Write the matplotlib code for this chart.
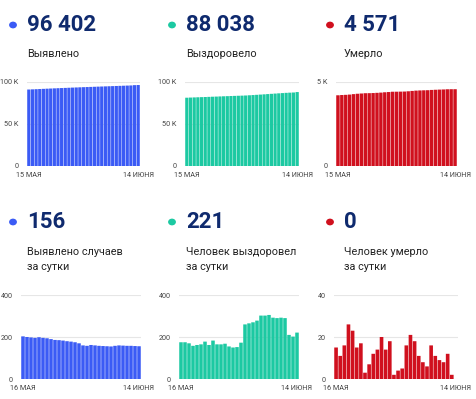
import matplotlib
matplotlib.use("Agg")
import matplotlib.pyplot as plt
from matplotlib.patches import Circle

plt.rcParams['font.family'] = ['Roboto', 'DejaVu Sans']

W, H = 477, 399

# ---- data ----
top_titles = ["96 402", "88 038", "4 571"]
top_labels = ["Выявлено", "Выздоровело", "Умерло"]
bottom_titles = ["156", "221", "0"]
bottom_labels = [["Выявлено случаев", "за сутки"],
                 ["Человек выздоровел", "за сутки"],
                 ["Человек умерло", "за сутки"]]

top_xlabels = ["15 МАЯ", "14 ИЮНЯ"]
bottom_xlabels = ["16 МАЯ", "14 ИЮНЯ"]

cases_total = [91050, 91250, 91450, 91650, 91850, 92050, 92240, 92430, 92620, 92800,
               92980, 93160, 93340, 93510, 93680, 93840, 94000, 94160, 94320, 94480,
               94640, 94790, 94950, 95100, 95260, 95420, 95580, 95740, 95900, 96250, 96402]
recovered_total = [81300, 81480, 81650, 81820, 81980, 82140, 82300, 82480, 82640, 82820,
                   82990, 83150, 83320, 83470, 83620, 83770, 83940, 84200, 84470, 84740,
                   85020, 85320, 85620, 85930, 86220, 86510, 86800, 87090, 87300, 87500, 88038]
deaths_total = [4210, 4225, 4236, 4252, 4278, 4301, 4316, 4333, 4336, 4343,
                4355, 4369, 4389, 4403, 4421, 4423, 4427, 4432, 4448, 4469,
                4487, 4498, 4506, 4512, 4528, 4539, 4548, 4556, 4568, 4571, 4571]

cases_daily = [203, 200, 198, 196, 199, 196, 194, 190, 186, 185,
               183, 180, 178, 175, 170, 160, 158, 162, 160, 158,
               157, 156, 155, 158, 160, 159, 158, 158, 157, 156]
recovered_daily = [175, 175, 170, 158, 162, 165, 178, 162, 183, 165,
                   165, 168, 155, 150, 152, 173, 260, 265, 270, 278,
                   302, 302, 305, 292, 290, 292, 290, 210, 202, 221]
deaths_daily = [15, 11, 16, 26, 23, 15, 17, 3, 7, 12,
                14, 20, 14, 18, 2, 4, 5, 16, 21, 18,
                11, 8, 6, 16, 11, 9, 8, 12, 2, 0]

top_yticks = [[0, 50000, 100000], [0, 50000, 100000], [0, 5000]]
top_yticklabels = [["0", "50 K", "100 K"], ["0", "50 K", "100 K"], ["0", "5 K"]]
top_ylim = [100000, 100000, 5000]
bottom_yticks = [[0, 200, 400], [0, 200, 400], [0, 20, 40]]
bottom_yticklabels = [["0", "200", "400"], ["0", "200", "400"], ["0", "20", "40"]]
bottom_ylim = [400, 400, 40]

colors = ["#3b5bf5", "#1cc9a2", "#d0101e"]
navy = "#0f2a6e"

fig = plt.figure(figsize=(W / 100, H / 100), dpi=100)
fig.patch.set_facecolor("white")


def fx(x):
    return x / W


def fy(y):
    return 1 - y / H


def add_ax(left, right, top, bottom):
    return fig.add_axes([fx(left), fy(bottom), (right - left) / W, (bottom - top) / H])


def style_ax(ax, vals, color, yticks, yticklabels, ylim, xlabels):
    n = len(vals)
    ax.bar(range(n), vals, width=0.88, color=color, zorder=2, snap=False,
           linewidth=0)
    ax.set_xlim(-0.5, n - 0.5)
    ax.set_ylim(0, ylim)
    ax.set_yticks(yticks)
    ax.set_yticklabels(yticklabels)
    ax.set_xticks([0, n - 1])
    ax.set_xticklabels(xlabels)
    for s in ax.spines.values():
        s.set_visible(False)
    ax.tick_params(axis="both", length=0, labelsize=5.2, colors="#444444")
    ax.tick_params(axis="y", pad=6)
    ax.tick_params(axis="x", pad=4)
    ax.grid(axis="y", color="#e6e6e6", linewidth=0.8, zorder=0)
    ax.set_axisbelow(True)
    ax.set_facecolor("none")


# ---- panel geometry (pixels) ----
top_axes = [(27, 140), (185, 299), (336, 457)]
bottom_axes = [(21, 141), (179, 299), (334, 458)]
dot_x = [13, 172, 330]
num_x = [27, 186, 344]

top_series = [cases_total, recovered_total, deaths_total]
bottom_series = [cases_daily, recovered_daily, deaths_daily]

for i in range(3):
    # top row header
    fig.patches.append(Circle((fx(dot_x[i]), fy(25)), 3.2 / W, transform=fig.transFigure,
                              color=colors[i]))
    fig.text(fx(num_x[i]), fy(25), top_titles[i], fontsize=16, fontweight="bold",
             color=navy, va="center", ha="left")
    fig.text(fx(num_x[i]), fy(54), top_labels[i], fontsize=7.8, color="#222222",
             va="center", ha="left")
    l, r = top_axes[i]
    ax = add_ax(l, r, 82, 166)
    style_ax(ax, top_series[i], colors[i], top_yticks[i], top_yticklabels[i],
             top_ylim[i], top_xlabels)

    # bottom row header
    fig.patches.append(Circle((fx(dot_x[i]), fy(222)), 3.2 / W, transform=fig.transFigure,
                              color=colors[i]))
    fig.text(fx(num_x[i]), fy(222), bottom_titles[i], fontsize=16, fontweight="bold",
             color=navy, va="center", ha="left")
    fig.text(fx(num_x[i]), fy(252), bottom_labels[i][0], fontsize=7.8, color="#222222",
             va="center", ha="left")
    fig.text(fx(num_x[i]), fy(267), bottom_labels[i][1], fontsize=7.8, color="#222222",
             va="center", ha="left")
    l, r = bottom_axes[i]
    ax = add_ax(l, r, 295, 379)
    style_ax(ax, bottom_series[i], colors[i], bottom_yticks[i], bottom_yticklabels[i],
             bottom_ylim[i], bottom_xlabels)

fig.savefig("out.png", dpi=100, facecolor="white")
